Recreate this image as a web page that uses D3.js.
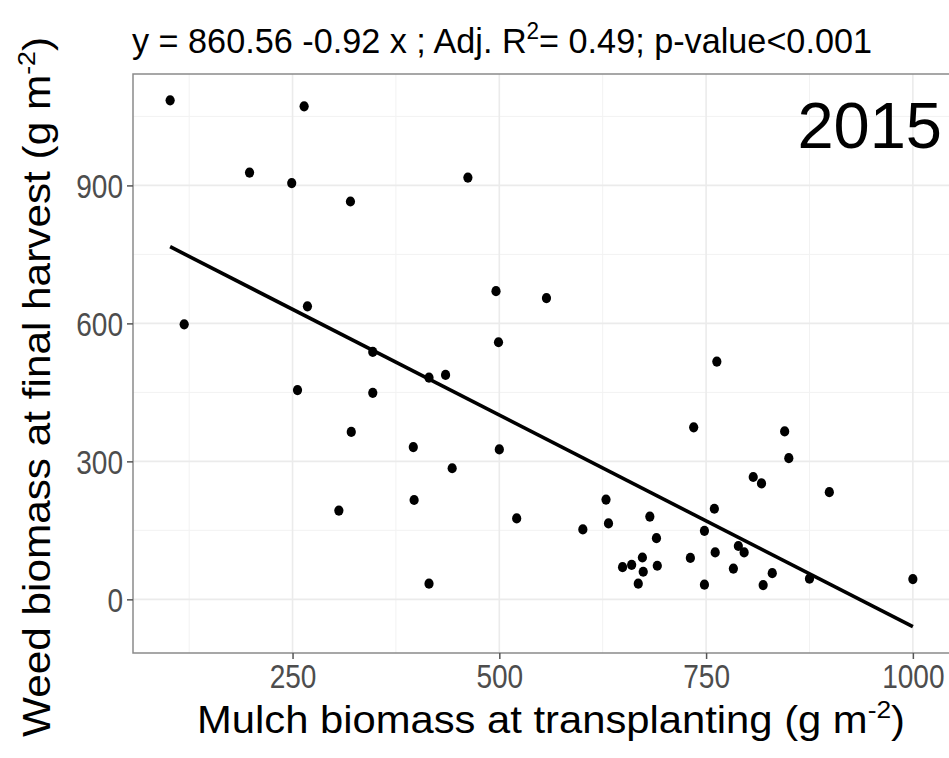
<!DOCTYPE html>
<html>
<head>
<meta charset="utf-8">
<script src="https://cdn.jsdelivr.net/npm/d3@7"></script>
<style>
  body { margin: 0; background: white; }
  text { font-family: "Liberation Sans", Arial, sans-serif; }
</style>
</head>
<body>
<svg></svg>
<script>
// Data
const mulch = [102, 264, 198, 249, 320, 268, 119, 462, 496, 557, 499, 347, 415, 435,
               256, 347, 321, 396, 500, 443, 397, 306, 521, 415, 763, 735, 601, 629,
               632, 682, 690, 673, 660, 649, 674, 691, 668, 760, 748, 761, 731, 748,
               789, 796, 783, 807, 817, 845, 850, 899, 830, 819, 875, 1000];
const weed = [1085, 1072, 928, 905, 865, 637, 598, 917, 670, 655, 559, 538, 482, 488,
              455, 449, 364, 331, 326, 285, 216, 193, 176, 34, 517, 374, 152, 217,
              165, 180, 133, 91, 75, 70, 60, 73, 34, 197, 149, 102, 90, 32,
              116, 102, 67, 266, 252, 365, 307, 233, 57, 31, 45, 44];
const xTicks = [250, 500, 750, 1000];
const xMinor = [125, 375, 625, 875];
const yTicks = [0, 300, 600, 900];
const yMinor = [150, 450, 750, 1050];
const intercept = 860.56;
const slope = -0.92;

const svgWidth = 949;
const svgHeight = 758;
const panel = { left: 133, top: 74, right: 950, bottom: 653 };
const squeeze = 0.85; // labels in the picture are horizontally narrow

const svg = d3.select("svg")
    .attr("width", svgWidth)
    .attr("height", svgHeight);

const points = mulch.map((m, i) => ({ x: m, y: weed[i] }));
const xExt = d3.extent(mulch);
const lineData = xExt.map(x => ({ x: x, y: intercept + slope * x }));

// ggplot style 5% expansion
const yAll = weed.concat(lineData.map(d => d.y));
const yExt = d3.extent(yAll);
const xPad = (xExt[1] - xExt[0]) * 0.05;
const yPad = (yExt[1] - yExt[0]) * 0.05;

const x = d3.scaleLinear()
    .domain([xExt[0] - xPad, xExt[1] + xPad])
    .range([panel.left, panel.right]);
const y = d3.scaleLinear()
    .domain([yExt[0] - yPad, yExt[1] + yPad])
    .range([panel.bottom, panel.top]);

// grid lines
const grid = svg.append("g");
grid.selectAll(".vminor").data(xMinor).enter().append("line")
    .attr("x1", d => x(d)).attr("x2", d => x(d))
    .attr("y1", panel.top).attr("y2", panel.bottom)
    .attr("stroke", "#f2f2f2").attr("stroke-width", 1);
grid.selectAll(".hminor").data(yMinor).enter().append("line")
    .attr("x1", panel.left).attr("x2", panel.right)
    .attr("y1", d => y(d)).attr("y2", d => y(d))
    .attr("stroke", "#f2f2f2").attr("stroke-width", 1);
grid.selectAll(".vmajor").data(xTicks).enter().append("line")
    .attr("x1", d => x(d)).attr("x2", d => x(d))
    .attr("y1", panel.top).attr("y2", panel.bottom)
    .attr("stroke", "#ebebeb").attr("stroke-width", 1.6);
grid.selectAll(".hmajor").data(yTicks).enter().append("line")
    .attr("x1", panel.left).attr("x2", panel.right)
    .attr("y1", d => y(d)).attr("y2", d => y(d))
    .attr("stroke", "#ebebeb").attr("stroke-width", 1.6);

// points
svg.append("g").selectAll("ellipse")
    .data(points)
    .enter()
    .append("ellipse")
    .attr("cx", d => x(d.x))
    .attr("cy", d => y(d.y))
    .attr("rx", 4.6)
    .attr("ry", 5.1)
    .attr("fill", "black");

// regression line
svg.append("path")
    .datum(lineData)
    .attr("d", d3.line().x(d => x(d.x)).y(d => y(d.y)))
    .attr("fill", "none")
    .attr("stroke", "black")
    .attr("stroke-width", 3.6);

// panel border
svg.append("rect")
    .attr("x", panel.left).attr("y", panel.top)
    .attr("width", panel.right - panel.left)
    .attr("height", panel.bottom - panel.top)
    .attr("fill", "none")
    .attr("stroke", "#8a8a8a")
    .attr("stroke-width", 1.5);

// axes
const xAxis = svg.append("g")
    .attr("transform", `translate(0,${panel.bottom})`)
    .call(d3.axisBottom(x).tickValues(xTicks).tickFormat(d3.format("d")).tickSize(6));
const yAxis = svg.append("g")
    .attr("transform", `translate(${panel.left},0)`)
    .call(d3.axisLeft(y).tickValues(yTicks).tickFormat(d3.format("d")).tickSize(6));

[xAxis, yAxis].forEach(g => {
    g.select(".domain").remove();
    g.selectAll(".tick line").attr("stroke", "#555").attr("stroke-width", 1.5);
    g.selectAll(".tick text")
        .attr("fill", "#4d4d4d")
        .style("font-size", "33px")
        .style("font-family", "'Liberation Sans', Arial, sans-serif");
});
xAxis.selectAll(".tick text")
    .attr("y", 9)
    .attr("dy", "0.8em")
    .attr("transform", `scale(${squeeze},1)`);
yAxis.selectAll(".tick text")
    .attr("x", -10 / squeeze)
    .attr("dy", "0.36em")
    .attr("transform", `scale(${squeeze},1)`);

// title
const title = svg.append("text")
    .attr("x", 132)
    .attr("y", 53)
    .style("font-size", "35px")
    .attr("fill", "black");
title.append("tspan").text("y = 860.56 -0.92 x ; Adj. R");
title.append("tspan").text("2").style("font-size", "23px").attr("dy", -14);
title.append("tspan").text("= 0.49; p-value<0.001").attr("dy", 14);
title.attr("textLength", 740).attr("lengthAdjust", "spacingAndGlyphs");

// year annotation
svg.append("text")
    .attr("x", 942)
    .attr("y", 148)
    .attr("text-anchor", "end")
    .style("font-size", "65px")
    .attr("fill", "black")
    .text("2015");

// x axis title
const xt = svg.append("text")
    .attr("x", 197)
    .attr("y", 733)
    .style("font-size", "38px")
    .attr("fill", "black");
xt.append("tspan").text("Mulch biomass at transplanting (g m");
xt.append("tspan").text("-2").style("font-size", "24px").attr("dy", -15);
xt.append("tspan").text(")").attr("dy", 15);
xt.attr("textLength", 708).attr("lengthAdjust", "spacingAndGlyphs");

// y axis title
const yt = svg.append("text")
    .attr("transform", "translate(50,737) rotate(-90)")
    .style("font-size", "38px")
    .attr("fill", "black");
yt.append("tspan").text("Weed biomass at final harvest (g m");
yt.append("tspan").text("-2").style("font-size", "24px").attr("dy", -15);
yt.append("tspan").text(")").attr("dy", 15);
yt.attr("textLength", 700).attr("lengthAdjust", "spacingAndGlyphs");
</script>
</body>
</html>
